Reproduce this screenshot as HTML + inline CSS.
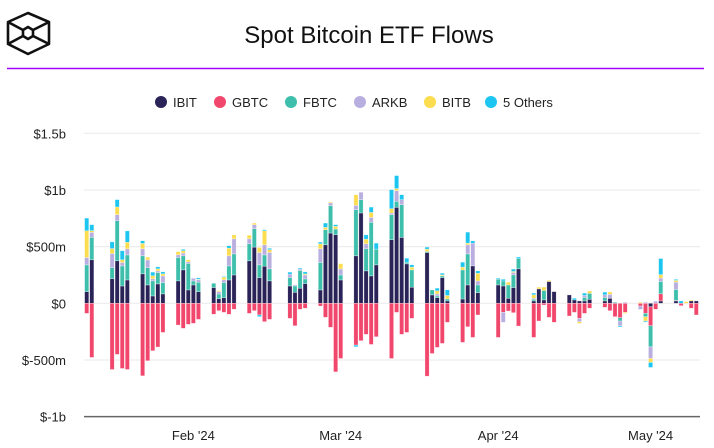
<!DOCTYPE html>
<html><head><meta charset="utf-8"><style>
body{margin:0;background:#fff;width:714px;height:448px;overflow:hidden;font-family:"Liberation Sans",sans-serif}
svg{display:block}
</style></head><body>
<svg id="chart" width="714" height="448" viewBox="0 0 714 448">
<g fill="none" stroke="#111" stroke-width="2.6" stroke-linejoin="round">
<polygon points="28,13 49,22 49,44 28,54 8,44 8,22"/>
<polygon points="28,27 33,30 33,36 28,39 23,36 23,30"/>
<line x1="8" y1="22" x2="23" y2="30"/><line x1="49" y1="22" x2="33" y2="30"/>
<line x1="8" y1="44" x2="23" y2="36"/><line x1="49" y1="44" x2="33" y2="36"/>
</g>
<text x="369" y="43" text-anchor="middle" font-size="24" fill="#111">Spot Bitcoin ETF Flows</text>
<line x1="7" y1="68.5" x2="704" y2="68.5" stroke="#a100ff" stroke-width="1.5"/>
<g id="legend"></g>
<g id="grid"></g><g id="bars"></g><g id="axes"></g>
</svg>
<script>
const dates=["01-11","01-12","01-16","01-17","01-18","01-19","01-22","01-23","01-24","01-25","01-26","01-29","01-30","01-31","02-01","02-02","02-05","02-06","02-07","02-08","02-09","02-12","02-13","02-14","02-15","02-16","02-20","02-21","02-22","02-23","02-26","02-27","02-28","02-29","03-01","03-04","03-05","03-06","03-07","03-08","03-11","03-12","03-13","03-14","03-15","03-18","03-19","03-20","03-21","03-22","03-25","03-26","03-27","03-28","04-01","04-02","04-03","04-04","04-05","04-08","04-09","04-10","04-11","04-12","04-15","04-16","04-17","04-18","04-19","04-22","04-23","04-24","04-25","04-26","04-29","04-30","05-01","05-02","05-03","05-06","05-07","05-08","05-09","05-10"];
const seriesNames=["IBIT","GBTC","FBTC","ARKB","BITB","5 Others"];
const ibit=[103,384,218,375,153,206,260,162,65,171,83,198,295,118,162,103,139,41,50,206,250,375,496,227,327,198,153,97,133,174,118,516,620,605,206,419,797,286,242,339,561,847,581,348,142,448,74,50,227,21,38,162,330,94,162,153,44,139,304,21,127,30,192,103,74,30,21,21,35,21,44,0,0,0,0,0,-30,0,21,21,0,0,21,21];
const gbtc=[-89,-478,-584,-451,-575,-584,-640,-507,-419,-386,-257,-192,-221,-186,-177,-142,-97,-65,-80,-97,-53,-89,-65,-103,-162,-142,-133,-198,-53,-44,-24,-124,-212,-605,-487,-369,-330,-274,-363,-295,-487,-80,-274,-257,-133,-643,-443,-389,-354,-168,-345,-207,-301,-103,-301,-80,-68,-83,-201,-301,-156,-15,-124,-168,-112,-80,-133,-89,-44,-35,-65,-118,-127,-80,-24,-89,-168,-53,63,4,-21,0,-44,-103];
const fbtc=[236,198,97,354,177,221,159,153,133,100,100,206,124,233,35,83,38,41,133,124,186,150,162,112,100,106,74,56,156,41,242,133,242,50,44,407,118,195,472,139,221,53,289,15,153,9,44,15,15,18,257,274,0,68,50,44,118,112,89,15,0,83,0,0,0,0,0,30,53,30,0,9,-30,0,0,-30,-186,0,109,97,0,0,0,0];
const arkb=[65,44,124,53,30,53,62,68,18,15,59,24,24,15,24,21,0,21,24,89,133,44,35,109,89,145,30,9,12,35,121,0,24,0,53,38,65,44,44,0,15,94,44,0,0,0,0,18,0,0,0,80,200,35,0,-88,0,21,0,9,0,0,0,0,0,0,-30,18,0,24,35,0,-41,9,-30,9,-103,18,30,65,0,0,0,0];
const bitb=[236,15,44,68,24,59,47,24,27,18,18,27,21,18,0,5,0,9,24,68,35,32,15,44,124,24,0,0,0,9,44,21,9,24,47,94,0,41,44,0,38,18,0,0,24,21,0,27,9,30,24,15,0,68,0,0,24,9,0,30,15,30,10,0,0,0,-15,0,21,0,21,0,0,-9,9,-38,-35,0,30,15,0,15,9,0];
const others=[112,53,59,65,80,100,24,0,32,18,18,0,12,0,0,12,0,0,6,21,0,0,0,-15,9,12,18,0,9,18,15,38,0,15,0,-15,0,38,47,53,168,115,44,35,21,18,0,24,15,50,44,97,21,21,9,15,0,21,15,15,0,0,0,0,0,15,0,21,0,24,0,0,-10,0,0,-9,-44,0,142,9,21,0,0,0];
const yTicks=[1500,1000,500,0,-500,-1000];
const yTickLabels=["$1.5b","$1b","$500m","$0","$-500m","$-1b"];
const monthTicks=["02-01","03-01","04-01","05-01"];
const monthLabels=["Feb '24","Mar '24","Apr '24","May '24"];
const colors=["#2a2358","#f2476d","#3ebfab","#b9aee0","#fcdd50","#1cc6f1"];
const NS="http://www.w3.org/2000/svg";
function mk(t,a,p){const e=document.createElementNS(NS,t);for(const k in a)e.setAttribute(k,a[k]);p.appendChild(e);return e;}
const dayMs=86400000, t0=Date.UTC(2024,0,11);
function dayIdx(s){const [m,d]=s.split("-").map(Number);return (Date.UTC(2024,m-1,d)-t0)/dayMs;}
function x(s){return 86.7+dayIdx(s)*5.08;}
function y(v){return 303.3-v*0.11333;}
const grid=document.getElementById("grid"),axes=document.getElementById("axes"),bars=document.getElementById("bars"),legend=document.getElementById("legend");
yTicks.forEach((v,i)=>{
  if(v!==-1000){const g=mk("line",{x1:84,x2:700,y1:y(v),y2:y(v),stroke:"#ededed","stroke-width":1.2},grid);
  
  }
  const t=mk("text",{x:66,y:y(v)+5,"text-anchor":"end","font-size":13,fill:"#222"},axes);t.textContent=yTickLabels[i];
  
  
});
const ax=mk("line",{x1:84,x2:700,y1:y(-1000),y2:y(-1000),stroke:"#666","stroke-width":1.5},axes);


monthTicks.forEach((m,i)=>{
  const t=mk("text",{x:x(m),y:440,"text-anchor":"middle","font-size":13,fill:"#222"},axes);t.textContent=monthLabels[i];
  
  
});
const all=[ibit,gbtc,fbtc,arkb,bitb,others];
dates.forEach((d,i)=>{
  let pos=0,neg=0;const cx=x(d);
  all.forEach((s,k)=>{
    const v=s[i];if(!v)return;
    let a,b;if(v>0){a=pos;b=pos+v;pos=b;}else{a=neg;b=neg+v;neg=b;}
    const r=mk("rect",{x:cx-2.1,width:4.2,y:Math.min(y(a),y(b)),height:Math.abs(y(a)-y(b)),fill:colors[k],stroke:"#fff","stroke-opacity":0.6,"stroke-width":0.5},bars);
    
    
  });
});
const lx=[161,220,291,360,430,491];
seriesNames.forEach((n,i)=>{
  const g=mk("g",{},legend);
  
  
  mk("circle",{cx:lx[i],cy:102,r:6,fill:colors[i]},g);
  const t=mk("text",{x:lx[i]+12,y:107,"font-size":13,fill:"#222"},g);t.textContent=n;
});
</script>
</body></html>
